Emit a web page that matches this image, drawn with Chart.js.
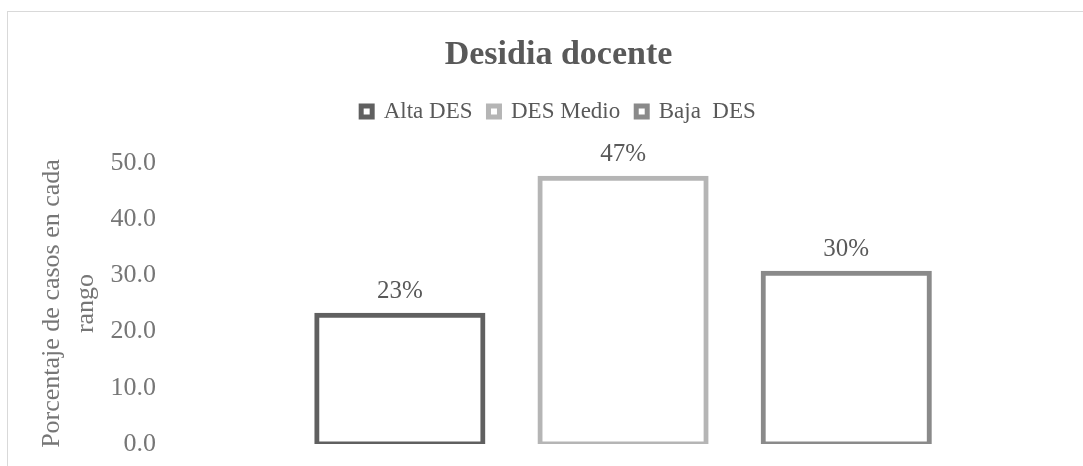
<!DOCTYPE html>
<html>
<head>
<meta charset="utf-8">
<script src="https://cdn.jsdelivr.net/npm/chart.js@4"></script>
<style>
  html, body { margin: 0; padding: 0; background: #fff; overflow: hidden; }
  #frame {
    position: absolute; left: 7px; top: 11px;
    width: 1083px; height: 480px;
    border-top: 1px solid #d9d9d9; border-left: 1px solid #d9d9d9;
  }
</style>
</head>
<body>
<div id="frame"><canvas id="chart"></canvas></div>
<script>
const categories = [""];
const seriesNames = ["Alta DES", "DES Medio", "Baja  DES"];
const seriesValues = [22.9, 47.3, 30.4];
const yTicks = [0, 10, 20, 30, 40, 50];

const seriesColors = ["#606060", "#b5b5b5", "#8a8a8a"];
const SERIF = "'Liberation Serif', 'Times New Roman', serif";

// percent labels above each bar
const barLabels = {
  id: "barLabels",
  afterDatasetsDraw(chart) {
    const ctx = chart.ctx;
    ctx.save();
    ctx.font = "25px " + SERIF;
    ctx.fillStyle = "#595959";
    ctx.textAlign = "center";
    ctx.textBaseline = "alphabetic";
    chart.data.datasets.forEach((ds, i) => {
      chart.getDatasetMeta(i).data.forEach((bar, j) => {
        ctx.fillText(Math.round(ds.data[j]) + "%", bar.x, bar.y - 17);
      });
    });
    ctx.restore();
  }
};

// extra room between legend and plot
const legendGap = {
  id: "legendGap",
  beforeInit(chart) {
    const fit = chart.legend.fit;
    chart.legend.fit = function () {
      fit.bind(chart.legend)();
      this.height += 30;
    };
  }
};

new Chart(document.getElementById("chart"), {
  type: "bar",
  data: {
    labels: categories,
    datasets: seriesNames.map((name, i) => ({
      label: name,
      data: [seriesValues[i]],
      backgroundColor: "#ffffff",
      borderColor: seriesColors[i],
      borderWidth: 5,
      borderSkipped: false,
      inflateAmount: 2.5
    }))
  },
  options: {
    responsive: true,
    maintainAspectRatio: false,
    animation: false,
    layout: { padding: { top: 0, right: 9, bottom: 48, left: 27 } },
    datasets: { bar: { categoryPercentage: 0.7295, barPercentage: 0.7444 } },
    plugins: {
      title: {
        display: true,
        text: "Desidia docente",
        color: "#595959",
        font: { family: SERIF, size: 34, weight: "bold", lineHeight: 1.0 },
        padding: { top: 26, bottom: 12 }
      },
      legend: {
        labels: {
          boxWidth: 11,
          boxHeight: 11,
          padding: 16,
          color: "#595959",
          font: { family: SERIF, size: 23 }
        }
      },
      tooltip: { enabled: false }
    },
    scales: {
      x: { display: false },
      y: {
        min: yTicks[0],
        max: yTicks[yTicks.length - 1],
        ticks: {
          stepSize: yTicks[1] - yTicks[0],
          callback: v => v.toFixed(1),
          color: "#767676",
          font: { family: SERIF, size: 26 },
          padding: 8
        },
        grid: { display: false, drawTicks: false },
        border: { display: false },
        title: {
          display: true,
          text: ["Porcentaje de casos en cada", "rango"],
          color: "#767676",
          font: { family: SERIF, size: 26, lineHeight: 1.3 },
          padding: 0
        }
      }
    }
  },
  plugins: [barLabels, legendGap]
});
</script>
</body>
</html>
